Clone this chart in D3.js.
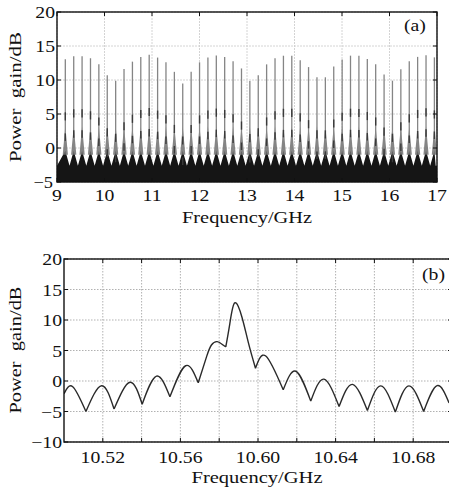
<!DOCTYPE html>
<html><head><meta charset="utf-8">
<script src="https://cdn.jsdelivr.net/npm/d3@7"></script>
<style>
body{margin:0;background:#fff}
svg{display:block}
text{font-family:"Liberation Serif","Times New Roman",serif;fill:#111}
</style>
</head><body>
<svg id="c" width="449" height="492"></svg>
<script>
// ---------- Panel (a) data ----------
const aTicksX = [9, 10, 11, 12, 13, 14, 15, 16, 17];
const aTicksY = [-5, 0, 5, 10, 15, 20];
const aPeakFreq = [9.175, 9.352, 9.528, 9.705, 9.881, 10.058, 10.235, 10.411, 10.588, 10.764,
  10.941, 11.118, 11.294, 11.471, 11.647, 11.824, 12.001, 12.177, 12.354, 12.530,
  12.707, 12.884, 13.060, 13.237, 13.413, 13.590, 13.767, 13.943, 14.120, 14.296,
  14.473, 14.650, 14.826, 15.003, 15.179, 15.356, 15.533, 15.709, 15.886, 16.062,
  16.239, 16.416, 16.592, 16.769, 16.945];
const aPeakGain = [13.05, 13.5, 13.5, 13.2, 12.3, 10.7, 9.9, 11.6, 12.7, 13.4,
  13.7, 13.3, 12.6, 11.2, 9.5, 11.2, 12.6, 13.3, 13.6, 13.4,
  12.75, 11.7, 9.85, 10.7, 12.3, 13.2, 13.57, 13.57, 12.9, 11.9,
  10.4, 10.4, 12.0, 13.0, 13.58, 13.55, 13.1, 12.3, 10.8, 9.9,
  11.57, 12.75, 13.4, 13.65, 13.33];
const aFloorNearPeak = -0.4;   // top of dense ripple band beside each spike
const aFloorBetween = -2.6;    // top of dense ripple band midway between spikes
const aSideBands = [[-9.0, -7.8], [-12.0, -10.9]]; // darker sidelobe marks relative to peak

// ---------- Panel (b) data ----------
const bTicksX = [10.52, 10.54, 10.56, 10.58, 10.60, 10.62, 10.64, 10.66, 10.68];
const bLabelsX = [10.52, 10.56, 10.60, 10.64, 10.68];
const bTicksY = [-10, -5, 0, 5, 10, 15, 20];
const bFreq = [10.500, 10.5045, 10.5113, 10.5194, 10.5258, 10.534, 10.5403, 10.5477, 10.5546,
  10.5627, 10.5692, 10.5735, 10.576, 10.579, 10.582, 10.5834, 10.5855, 10.588, 10.5917,
  10.5951, 10.5987, 10.604, 10.613, 10.6195, 10.6272, 10.634, 10.6418, 10.6487, 10.6564,
  10.6633, 10.6708, 10.6778, 10.6854, 10.6923, 10.6985];
const bGain = [-2.1, -0.93, -5.0, -0.77, -4.6, -0.2, -3.8, 0.8, -2.6,
  2.5, -0.3, 4.0, 5.9, 6.45, 5.9, 5.6, 9.45, 12.8, 10.5,
  6.2, 2.1, 4.1, -1.45, 1.6, -3.3, 0.3, -4.2, -0.55, -4.85,
  -0.8, -5.1, -0.8, -5.0, -0.77, -3.6];

// ---------- drawing ----------
const svg = d3.select('#c');
svg.append('rect').attr('width', 449).attr('height', 492).attr('fill', '#fff');
const SX = 1.16, FS = 17;

function txt(g, x, y, s, anchor, sx) {
  return g.append('text').attr('transform', `translate(${x},${y}) scale(${sx || SX},1)`)
    .attr('text-anchor', anchor).attr('font-size', FS).text(s);
}
function fmtY(v) { return v < 0 ? '\u2212' + Math.abs(v) : String(v); }

function panel(cfg) {
  const x = d3.scaleLinear().domain(cfg.xd).range([cfg.l, cfg.r]);
  const y = d3.scaleLinear().domain(cfg.yd).range([cfg.b, cfg.t]);
  const g = svg.append('g');
  const cid = 'clip' + cfg.id;
  svg.append('clipPath').attr('id', cid).append('rect')
    .attr('x', cfg.l).attr('y', cfg.t).attr('width', cfg.r - cfg.l).attr('height', cfg.b - cfg.t);
  const grid = g.append('g').attr('stroke', cfg.gridColor).attr('stroke-width', 0.9)
    .attr('stroke-dasharray', cfg.dash);
  cfg.xt.forEach(v => grid.append('line').attr('x1', x(v)).attr('x2', x(v)).attr('y1', cfg.t).attr('y2', cfg.b));
  cfg.yt.forEach(v => grid.append('line').attr('y1', y(v)).attr('y2', y(v)).attr('x1', cfg.l).attr('x2', cfg.r));
  const plot = g.append('g').attr('clip-path', `url(#${cid})`);
  const tk = g.append('g').attr('stroke', '#111').attr('stroke-width', 1);
  cfg.xt.forEach(v => {
    tk.append('line').attr('x1', x(v)).attr('x2', x(v)).attr('y1', cfg.b).attr('y2', cfg.b - 4);
    tk.append('line').attr('x1', x(v)).attr('x2', x(v)).attr('y1', cfg.t).attr('y2', cfg.t + 4);
  });
  cfg.yt.forEach(v => {
    tk.append('line').attr('y1', y(v)).attr('y2', y(v)).attr('x1', cfg.l).attr('x2', cfg.l + 4);
    tk.append('line').attr('y1', y(v)).attr('y2', y(v)).attr('x1', cfg.r).attr('x2', cfg.r - 4);
  });
  return { x, y, g, plot };
}

// Panel (a)
const A = panel({ id: 'a', l: 57, r: 437, t: 12, b: 182, xd: [9, 17], yd: [-5, 20],
  xt: aTicksX, yt: aTicksY, gridColor: '#cfcfcf', dash: '2,1' });
{
  const { x, y, plot, g } = A;
  const band = [[9.0, aFloorBetween]];
  aPeakFreq.forEach((f, i) => {
    band.push([f, aFloorNearPeak]);
    const nf = i < aPeakFreq.length - 1 ? aPeakFreq[i + 1] : 17.0;
    band.push([(f + nf) / 2, aFloorBetween]);
  });
  band.push([17.0, aFloorBetween]);
  plot.append('path').datum(band)
    .attr('d', d3.area().x(d => x(d[0])).y0(y(-6)).y1(d => y(d[1])))
    .attr('fill', '#151515');
  aPeakFreq.forEach((f, i) => {
    const gpk = aPeakGain[i];
    plot.append('path').datum([[f - 0.055, -1.0], [f, 3.2], [f + 0.055, -1.0]])
      .attr('d', d3.line().x(d => x(d[0])).y(d => y(d[1])))
      .attr('fill', '#707070').attr('opacity', 0.85);
    plot.append('line').attr('x1', x(f)).attr('x2', x(f))
      .attr('y1', y(aFloorNearPeak)).attr('y2', y(gpk))
      .attr('stroke', '#858585').attr('stroke-width', 1.3);
    aSideBands.forEach(sb => {
      plot.append('line').attr('x1', x(f)).attr('x2', x(f))
        .attr('y1', y(gpk + sb[0])).attr('y2', y(gpk + sb[1]))
        .attr('stroke', '#3a3a3a').attr('stroke-width', 1.4);
    });
  });
  g.append('rect').attr('x', 57).attr('y', 12).attr('width', 380).attr('height', 170)
    .attr('fill', 'none').attr('stroke', '#111').attr('stroke-width', 1.4);
  aTicksX.forEach(v => txt(g, x(v), 201, String(v), 'middle'));
  aTicksY.forEach(v => txt(g, v < 0 ? 53 : 55, y(v) + 5.5, fmtY(v), 'end', v < 0 ? 1.08 : SX));
  txt(g, 404, 30.5, '(a)', 'start');
  g.append('text').attr('x', 247).attr('y', 223).attr('text-anchor', 'middle')
    .attr('font-size', FS).attr('textLength', 130).attr('lengthAdjust', 'spacingAndGlyphs')
    .text('Frequency/GHz');
  g.append('text').attr('transform', 'translate(21,97) rotate(-90)').attr('text-anchor', 'middle')
    .attr('font-size', FS).attr('textLength', 130).attr('lengthAdjust', 'spacingAndGlyphs')
    .style('white-space', 'pre').text('Power  gain/dB');
}

// Panel (b)
const B = panel({ id: 'b', l: 64, r: 452, t: 259, b: 442, xd: [10.50, 10.70], yd: [-10, 20],
  xt: bTicksX, yt: bTicksY, gridColor: '#a8a8a8', dash: '1.5,1.5' });
{
  const { x, y, plot, g } = B;
  const pts = bFreq.map((f, i) => [f, bGain[i]]);
  const segs = [];
  let cur = [pts[0]];
  for (let i = 1; i < pts.length; i++) {
    cur.push(pts[i]);
    const isMin = i < pts.length - 1 && pts[i][1] < pts[i - 1][1] && pts[i][1] < pts[i + 1][1];
    if (isMin) { segs.push(cur); cur = [pts[i]]; }
  }
  if (cur.length > 1) segs.push(cur);
  const ln = d3.line().x(d => x(d[0])).y(d => y(d[1])).curve(d3.curveNatural);
  plot.append('path').attr('d', segs.map(s => ln(s)).join(''))
    .attr('fill', 'none').attr('stroke', '#2a2a2a').attr('stroke-width', 1.4)
    .attr('stroke-linejoin', 'round');
  g.append('rect').attr('x', 64).attr('y', 259).attr('width', 388).attr('height', 183)
    .attr('fill', 'none').attr('stroke', '#111').attr('stroke-width', 1.4);
  bLabelsX.forEach(v => txt(g, x(v), 463, v.toFixed(2), 'middle'));
  bTicksY.forEach(v => txt(g, 62, y(v) + 6, fmtY(v), 'end'));
  txt(g, 422, 279.5, '(b)', 'start');
  g.append('text').attr('x', 257).attr('y', 483).attr('text-anchor', 'middle')
    .attr('font-size', FS).attr('textLength', 131).attr('lengthAdjust', 'spacingAndGlyphs')
    .text('Frequency/GHz');
  g.append('text').attr('transform', 'translate(21,350) rotate(-90)').attr('text-anchor', 'middle')
    .attr('font-size', FS).attr('textLength', 127).attr('lengthAdjust', 'spacingAndGlyphs')
    .style('white-space', 'pre').text('Power  gain/dB');
}
</script>
</body></html>
